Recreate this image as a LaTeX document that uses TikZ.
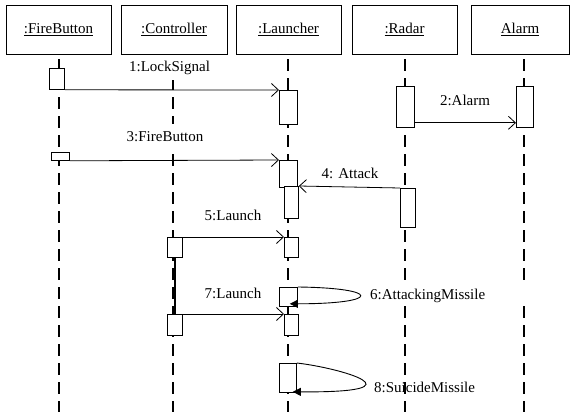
\documentclass[tikz,border=0pt]{standalone}
\usepackage{fontspec}
\setmainfont{Liberation Serif}
\usetikzlibrary{arrows.meta}
\pgfdeclarelayer{background}
\pgfsetlayers{background,main}
\begin{document}
\begin{tikzpicture}[x=1pt,y=-1pt,
 actor/.style={draw, line width=0.8pt, minimum height=49pt, inner sep=0pt, font=\fontsize{15}{18}\selectfont},
 life/.style={line width=2.8pt, dash pattern=on 12pt off 7pt},
 act/.style={draw, fill=white, line width=0.8pt, inner sep=0pt, anchor=north west},
 msg/.style={line width=0.8pt, -{Straight Barb[length=7pt,width=13pt,line width=0.8pt]}},
 selfmsg/.style={line width=0.9pt, -{Triangle[length=8pt,width=8pt]}},
 lbl/.style={font=\fontsize{15}{18}\selectfont, inner sep=1pt},
 lblbox/.style={lbl, fill=white, inner xsep=2pt, inner ysep=6pt}]
\useasboundingbox (0,0) rectangle (573,412);
% actors
\node[actor, minimum width=105pt] (fb) at (58.5,29.5) {\underline{:FireButton}};
\node[actor, minimum width=106pt] (ct) at (174,29.5) {\underline{:Controller}};
\node[actor, minimum width=105pt] (ln) at (288.5,29.5) {\underline{:Launcher}};
\node[actor, minimum width=105pt] (rd) at (404.5,29.5) {\underline{:Radar}};
\node[actor, minimum width=98pt] (al) at (520,29.5) {\underline{Alarm}};
\coordinate (bot) at (0,412);
% activations
\node[act, minimum width=15pt, minimum height=21pt] (fb1) at (49,68) {};
\node[act, minimum width=18pt, minimum height=8pt] (fb2) at (51,152) {};
\node[act, minimum width=18pt, minimum height=34pt] (la1) at (279,90) {};
\node[act, minimum width=18pt, minimum height=41pt] (ra1) at (396,86) {};
\node[act, minimum width=17pt, minimum height=41pt] (al1) at (516,86) {};
\node[act, minimum width=18pt, minimum height=27pt] (la2) at (279,160) {};
\node[act, minimum width=14pt, minimum height=32pt] (la3) at (284,186) {};
\node[act, minimum width=15pt, minimum height=39pt] (ra2) at (400,188) {};
\node[act, minimum width=15pt, minimum height=20pt] (c1) at (167,237) {};
\node[act, minimum width=14pt, minimum height=20pt] (la4) at (284,237) {};
\node[act, minimum width=18pt, minimum height=19pt] (la6) at (279,287) {};
\node[act, minimum width=15pt, minimum height=21pt] (c2) at (167,314) {};
\node[act, minimum width=14pt, minimum height=21pt] (la5) at (284,314) {};
\node[act, minimum width=17pt, minimum height=29pt] (la7) at (279,363) {};
% labels
\node[lblbox] (l1) at (169.5,67.5) {1:LockSignal};
\node[lbl] (l2) at (465,100) {2:Alarm};
\node[lblbox, inner ysep=8pt] (l3) at (165,137) {3:FireButton};
\node[lbl] (l4) at (350,173) {4: Attack};
\node[lbl] (l5) at (233,215) {5:Launch};
\node[lbl, fill=white, anchor=west, text width=156pt, align=left, inner ysep=2pt] (l6) at (369,296) {6:AttackingMissile};
\node[lbl] (l7) at (233,293) {7:Launch};
\node[lbl, anchor=west] (l8) at (373,387) {8:SuicideMissile};
% lifelines
\begin{pgfonlayer}{background}
\draw[life] ([xshift=0.5pt,yshift=-5pt]fb.south) -- ([xshift=0.5pt]fb.south |- bot);
\draw[life] ([xshift=-1pt,yshift=-5pt]ct.south) -- ([xshift=-1pt]ct.south |- bot);
\draw[life] ([xshift=-0.5pt,yshift=-5pt]ln.south) -- ([xshift=-0.5pt]ln.south |- bot);
\draw[life] ([xshift=0.5pt,yshift=-5pt]rd.south) -- ([xshift=0.5pt]rd.south |- bot);
\draw[life] ([xshift=4pt,yshift=-5pt]al.south) -- ([xshift=4pt]al.south |- bot);
\draw[line width=2.6pt] (c1.south) -- (c2.north);
\end{pgfonlayer}
% messages
\draw[msg] (fb1.south east) -- (la1.north west);
\draw[msg] ([yshift=5pt]ra1.south east) -- ([yshift=5pt]al1.south west);
\draw[msg] (fb2.south east) -- (la2.north west);
\draw[msg] (ra2.north west) -- (la3.north east);
\draw[msg] (c1.north east) -- (la4.north west);
\draw[msg] (c2.north east) -- (la5.north west);
\draw[selfmsg] (la6.north east) .. controls +(84,1) and +(92,0) .. ([xshift=-8pt,yshift=3pt]la6.south east);
\draw[selfmsg] (la7.north east) .. controls +(44,5) and +(133,1) .. ([xshift=-4pt,yshift=1pt]la7.south east);
\end{tikzpicture}
\end{document}
